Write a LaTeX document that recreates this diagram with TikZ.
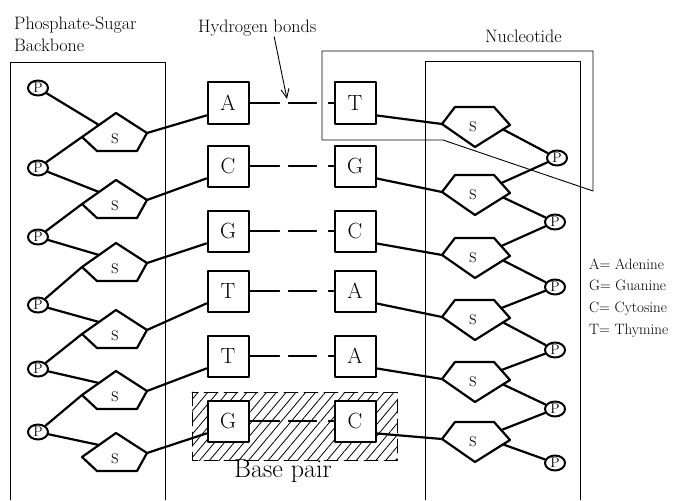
\documentclass[tikz,border=0pt]{standalone}
\usetikzlibrary{arrows.meta,patterns.meta,shapes.geometric}
\begin{document}
\begin{tikzpicture}[x=1pt,y=-1pt,line join=round,line cap=round]
\tikzset{base/.style={draw,line width=2pt,fill=white,minimum size=41pt,inner sep=0pt,font=\fontsize{22}{22}\selectfont},
	phos/.style={draw,ellipse,line width=2pt,fill=white,minimum width=20pt,minimum height=15pt,inner sep=0pt,font=\fontsize{14}{14}\selectfont},
	sug/.style={line width=2.2pt},
	link/.style={line width=2.2pt},
	bond/.style={line width=1.3pt,dash pattern=on 30pt off 9pt on 28pt off 12pt on 6pt},
	lbl/.style={anchor=base west,inner sep=0pt,font=\fontsize{18}{18}\selectfont}}
\useasboundingbox (0,0) rectangle (684,500);
\fill[pattern={Lines[angle=50,distance=7.5pt,line width=0.8pt]}] (192,392) rectangle (397,460);
\draw[line width=0.7pt,dash pattern=on 14pt off 6pt] (192,392) rectangle (397,460);
\draw[line width=0.9pt] (10,500) -- (10,62) -- (165,62) -- (165,500);
\draw[line width=0.9pt] (425,500) -- (425,61) -- (580,61) -- (580,500);
\draw[line width=0.9pt] (322,140) -- (322,51) -- (593,51) -- (593,191) -- (443,140) -- cycle;
\foreach \i/\y/\l/\r in {1/103/A/T,2/166/C/G,3/231/G/C,4/291/T/A,5/356/T/A,6/421/G/C}{
	\node[base] (bL\i) at (228,\y) {\l};
	\node[base] (bR\i) at (355,\y) {\r};
	\draw[bond] (bL\i.east) -- (bR\i.west);
}
\foreach \i/\t in {1/113,2/180,3/243,4/310,5/371,6/433}{
	\draw[sug,shift={(116,\t)}] (-34,24) coordinate (sL\i l) -- coordinate[pos=0.5] (sL\i u) (0,0) -- (31,20) coordinate (sL\i r) -- (21,38) -- (-19,38) -- cycle;
	\node[font=\fontsize{14}{14}\selectfont] (sL\i) at (115,\t+26) {S};
}
\foreach \i/\t in {1/107,2/175,3/238,4/300,5/362,6/422}{
	\draw[sug,shift={(475,\t)}] (-33,17) coordinate (sR\i l) -- (-20,0) -- (19,0) -- coordinate[pos=0.45] (sR\i u) (35,18) -- coordinate[pos=0.2] (sR\i d) (0,40) -- cycle;
	\node[font=\fontsize{14}{14}\selectfont] (sR\i) at (473,\t+20) {S};
}
\foreach \i/\y in {1/88,2/168,3/237,4/305,5/369,6/432}
	\node[phos] (pL\i) at (38,\y) {P};
\foreach \i/\x/\y in {1/557/158,2/555/222,3/555/287,4/555/350,5/555/409,6/555/463}
	\node[phos] (pR\i) at (\x,\y) {P};
\foreach \i in {1,...,6}{
	\draw[link] (pL\i) -- (sL\i u);
	\draw[link] (sL\i r) -- (bL\i.210);
	\draw[link] (sR\i d) -- (pR\i);
	\draw[link] (bR\i.330) -- (sR\i l);
}
\foreach \i [count=\j from 2] in {1,...,5}{
	\draw[link] (sL\i l) -- (pL\j);
	\draw[link] (pR\i) -- (sR\j u);
}
\node[lbl] (psLbl) at (14,30) {Phosphate-Sugar};
\node[lbl] (bbLbl) at (14,52) {Backbone};
\node[lbl] (hbLbl) at (198,33) {Hydrogen bonds};
\coordinate (hbTip) at (287,99);
\draw[-{Straight Barb[length=9pt,width=8pt]},line width=0.9pt] ([xshift=17pt]hbLbl.south) -- (hbTip);
\node[lbl] (ntLbl) at (485,43) {Nucleotide};
\foreach \k/\t [count=\n] in {A= Adenine/269,G= Guanine/290,C= Cytosine/312,T= Thymine/334}
	\node[lbl,font=\fontsize{15}{15}\selectfont] (key\n) at (589,\t) {\k};
\node[lbl,font=\fontsize{26}{26}\selectfont] (bpLbl) at (234,477) {Base pair};
\end{tikzpicture}
\end{document}
